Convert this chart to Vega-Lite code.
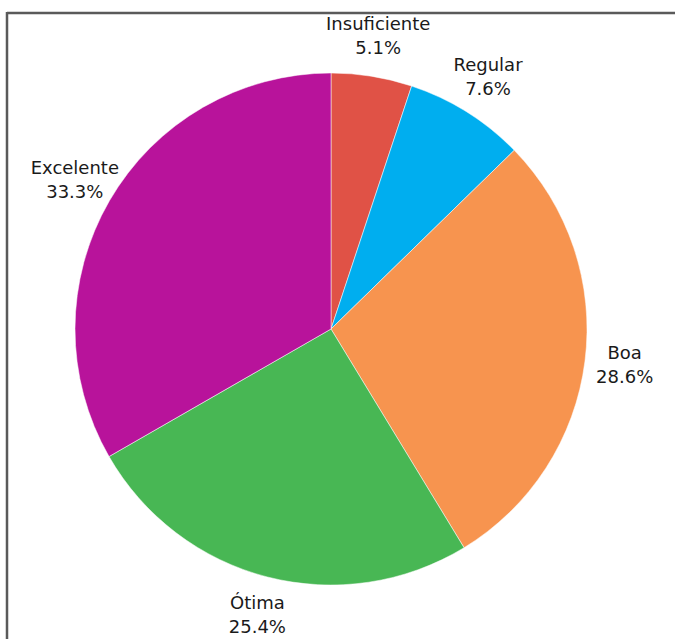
{
  "$schema": "https://vega.github.io/schema/vega-lite/v6.json",
  "width": 648,
  "height": 626,
  "autosize": {"type": "none"},
  "padding": {"left": 7, "top": 16, "right": 20, "bottom": -3},
  "background": "#ffffff",
  "config": {"view": {"stroke": null}},
  "data": {
    "values": [
      {"categoria": "Insuficiente", "pct": 5.1, "rotulo": "5.1%", "ordem": 1},
      {"categoria": "Regular", "pct": 7.6, "rotulo": "7.6%", "ordem": 2},
      {"categoria": "Boa", "pct": 28.6, "rotulo": "28.6%", "ordem": 3},
      {"categoria": "Ótima", "pct": 25.4, "rotulo": "25.4%", "ordem": 4},
      {"categoria": "Excelente", "pct": 33.3, "rotulo": "33.3%", "ordem": 5}
    ]
  },
  "encoding": {
    "theta": {"field": "pct", "type": "quantitative", "stack": true},
    "order": {"field": "ordem", "type": "quantitative"}
  },
  "layer": [
    {
      "mark": {"type": "arc", "outerRadius": 256, "stroke": "#ffffff", "strokeWidth": 0.5},
      "encoding": {
        "color": {
          "field": "categoria",
          "type": "nominal",
          "scale": {
            "domain": ["Insuficiente", "Regular", "Boa", "Ótima", "Excelente"],
            "range": ["#E05246", "#00AEEF", "#F7944F", "#48B754", "#B8139B"]
          },
          "legend": null
        }
      }
    },
    {
      "mark": {"type": "text", "radius": 296, "dy": -12, "fontSize": 18, "font": "DejaVu Sans", "color": "#1a1a1a"},
      "encoding": {"text": {"field": "categoria"}}
    },
    {
      "mark": {"type": "text", "radius": 296, "dy": 12, "fontSize": 18, "font": "DejaVu Sans", "color": "#1a1a1a"},
      "encoding": {"text": {"field": "rotulo"}}
    },
    {
      "data": {"values": [{"f": 1}]},
      "mark": {"type": "rule", "color": "#5a5a5a", "strokeWidth": 2.5},
      "encoding": {"y": {"value": -3}, "x": {"value": 0}, "x2": {"value": 668}}
    },
    {
      "data": {"values": [{"f": 1}]},
      "mark": {"type": "rule", "color": "#5a5a5a", "strokeWidth": 2.5},
      "encoding": {"x": {"value": 0}, "y": {"value": -4}, "y2": {"value": 640}}
    }
  ]
}
